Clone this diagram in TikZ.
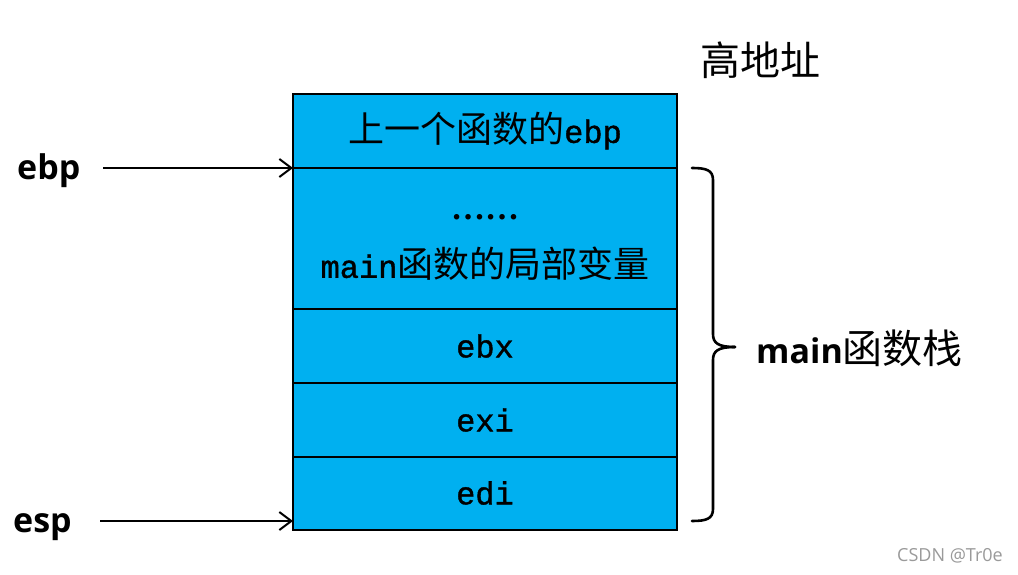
\documentclass[tikz,border=0pt]{standalone}
\usepackage{fontspec}
\usetikzlibrary{arrows.meta}
\newfontfamily\cjkf{Noto Sans CJK SC}
\newfontfamily\lblf{Open Sans}
\newfontfamily\monof{Liberation Mono}[FakeBold=1.2]
\newfontfamily\dotsf{Liberation Serif}
\definecolor{stackblue}{HTML}{00B0F0}
\definecolor{wmgray}{HTML}{9A9A9A}
\tikzset{
  rowbox/.style={draw=black, line width=2.4pt, fill=stackblue, minimum width=384pt, inner sep=0pt, outer sep=0pt},
  boxtext/.style={inner sep=0pt, font=\fontsize{32}{36}\selectfont},
  reglabel/.style={inner sep=0pt, anchor=base west, font=\lblf\bfseries\fontsize{34}{36}\selectfont},
  arr/.style={line width=2pt, -{Straight Barb[length=12pt,width=18pt,line width=2pt]}},
  bracepath/.style={line width=2.6pt, line cap=round, line join=round}
}
\newcommand{\cjkbox}{\cjkf\fontsize{36}{38}\selectfont}
\begin{document}
\begin{tikzpicture}[x=1pt,y=-1pt]
\useasboundingbox (0,0) rectangle (1018,575);
\fill[white] (0,0) rectangle (1018,575);
% stack rows
\node[rowbox, minimum height=74pt] (r1) at (485,131) {};
\node[rowbox, minimum height=141pt] (r2) at (485,238.5) {};
\node[rowbox, minimum height=74pt] (r3) at (485,346) {};
\node[rowbox, minimum height=74pt] (r4) at (485,420) {};
\node[rowbox, minimum height=73pt] (r5) at (485,493.5) {};
% row texts
\node[boxtext] (t1) at (485,131) {{\cjkbox 上一个函数的}{\monof ebp}};
\node[boxtext] (t2a) at (485,217) {\dotsf\bfseries\fontsize{34}{36}\selectfont ……};
\node[boxtext] (t2b) at (485,264) {{\monof main}{\cjkbox 函数的局部变量}};
\node[boxtext] (t3) at (485,346) {\monof ebx};
\node[boxtext] (t4) at (485,420) {\monof exi};
\node[boxtext] (t5) at (485,493) {\monof edi};
% high address
\node[inner sep=0pt, font=\cjkf\fontsize{40}{42}\selectfont] (high) at (760,60) {高地址};
% register labels and arrows
\node[reglabel] (ebp) at (17,179) {ebp};
\node[reglabel] (esp) at (13,532) {esp};
\coordinate (ebpstart) at (103,168);
\coordinate (espstart) at (100,521);
\coordinate (espend) at (293,521);
\draw[arr] (ebpstart) -- (r2.north west);
\draw[arr] (espstart) -- (espend);
% brace
\coordinate (btop) at (692,168);
\coordinate (bbot) at (692,521);
\coordinate (btip) at (735,347);
\draw[bracepath] (btop) .. controls (706,168) and (713,170) .. (713,180)
  -- (713,334) .. controls (713,343) and (718,347) .. (btip);
\draw[bracepath] (btip) .. controls (718,347) and (713,351) .. (713,360)
  -- (713,509) .. controls (713,519) and (706,521) .. (bbot);
\node[inner sep=0pt, anchor=west] (mainlbl) at (756,348)
  {{\lblf\bfseries\fontsize{34}{36}\selectfont main}{\cjkf\fontsize{40}{42}\selectfont 函数栈}};
% watermark
\node[inner sep=0pt, text=wmgray, font=\lblf\fontsize{18}{20}\selectfont] (wm) at (950,556) {CSDN @Tr0e};
\end{tikzpicture}
\end{document}
